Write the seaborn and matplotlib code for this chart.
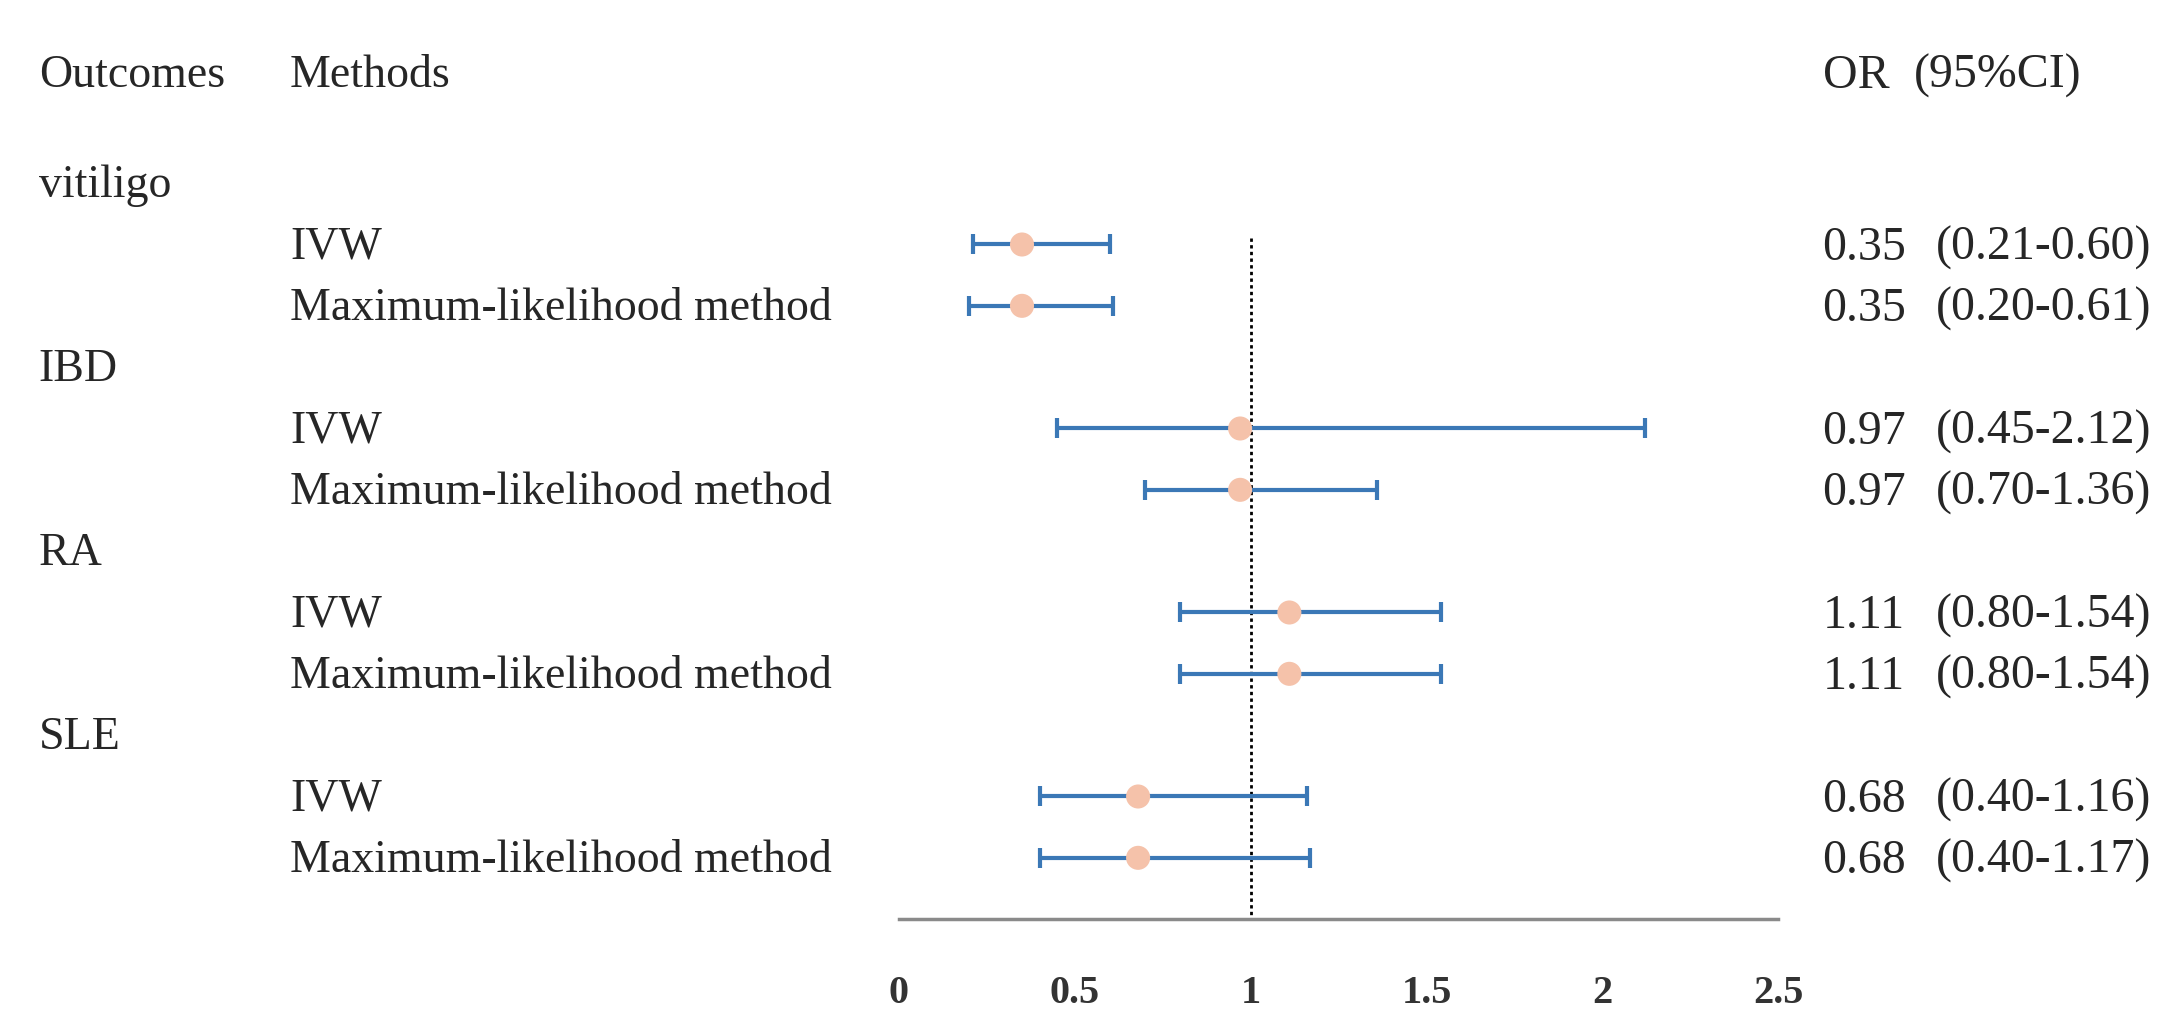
import numpy as np
import pandas as pd
import matplotlib
matplotlib.use("Agg")
import matplotlib.pyplot as plt
import matplotlib.transforms as mtransforms
import seaborn as sns

# data
outcomes = ["vitiligo", "IBD", "RA", "SLE"]
methods = ["IVW", "Maximum-likelihood method"]
or_vals = [0.35, 0.35, 0.97, 0.97, 1.11, 1.11, 0.68, 0.68]
ci_low = [0.21, 0.20, 0.45, 0.70, 0.80, 0.80, 0.40, 0.40]
ci_high = [0.60, 0.61, 2.12, 1.36, 1.54, 1.54, 1.16, 1.17]
xticks = [0, 0.5, 1, 1.5, 2, 2.5]
xtick_labels = ["0", "0.5", "1", "1.5", "2", "2.5"]

sns.set_style("white")
plt.rcParams["font.family"] = ["Liberation Serif", "DejaVu Serif"]

# one row per outcome header, then one row per method
rows = []
for i, out in enumerate(outcomes):
    rows.append({"label": out, "kind": "outcome", "idx": None})
    for j, m in enumerate(methods):
        rows.append({"label": m, "kind": "method", "idx": i * len(methods) + j})
for k, r in enumerate(rows):
    r["y"] = k

df = pd.DataFrame([r for r in rows if r["kind"] == "method"])
df["OR"] = [or_vals[i] for i in df["idx"]]
df["lo"] = [ci_low[i] for i in df["idx"]]
df["hi"] = [ci_high[i] for i in df["idx"]]

# layout measured on a 1568 x 735 grid
W, H = 1568, 735
fig = plt.figure(figsize=(21.65, 10.15), dpi=100)
ax = fig.add_axes([651 / W, 1 - 665.6 / H, (1288 - 651) / W, (665.6 - 28) / H])

blue = "#3b78b6"
peach = "#f5c2aa"

# reference line at OR = 1
ax.vlines(1, 0.9, len(rows), colors="black", linestyles=(0, (1.2, 1.2)), linewidth=2.0, zorder=1)

ax.errorbar(df["OR"], df["y"], xerr=[df["OR"] - df["lo"], df["hi"] - df["OR"]],
            fmt="none", ecolor=blue, elinewidth=3.0, capsize=7, capthick=3.0, zorder=2)
sns.scatterplot(data=df, x="OR", y="y", ax=ax, color=peach, s=300, edgecolor="none",
                zorder=3, legend=False)

ax.set_xlim(0, 2.5)
ax.set_ylim(len(rows), -2.356)
ax.set_xticks(xticks)
ax.set_xticklabels(xtick_labels, fontsize=29, fontweight="bold", color="#333333")
ax.tick_params(axis="x", length=0, pad=40)
ax.set_yticks([])
ax.set_xlabel("")
ax.set_ylabel("")
for s in ["top", "left", "right"]:
    ax.spines[s].set_visible(False)
ax.spines["bottom"].set_color("#8a8a8a")
ax.spines["bottom"].set_linewidth(2.5)

trans = mtransforms.blended_transform_factory(fig.transFigure, ax.transData)
fs = 33
fs_r = 34.5
dy = 0.05
hy = -1.80 + dy
ax.text(28 / W, hy, "Outcomes", transform=trans, fontsize=fs, va="center", clip_on=False)
ax.text(210 / W, hy, "Methods", transform=trans, fontsize=fs, va="center", clip_on=False)
ax.text(1320 / W, hy, "OR", transform=trans, fontsize=fs_r, va="center", clip_on=False)
ax.text(1386 / W, hy, "(95%CI)", transform=trans, fontsize=fs_r, va="center", clip_on=False)

for r in rows:
    y = r["y"] + dy
    if r["kind"] == "outcome":
        ax.text(28 / W, y, r["label"], transform=trans, fontsize=fs, va="center", clip_on=False)
    else:
        i = r["idx"]
        ax.text(210 / W, y, r["label"], transform=trans, fontsize=fs, va="center", clip_on=False)
        ax.text(1320 / W, y, f"{or_vals[i]:.2f}", transform=trans, fontsize=fs_r,
                va="center", clip_on=False)
        ax.text(1402 / W, y, f"({ci_low[i]:.2f}-{ci_high[i]:.2f})", transform=trans,
                fontsize=fs_r, va="center", clip_on=False)

fig.savefig("out.png", dpi=100, facecolor="white")
